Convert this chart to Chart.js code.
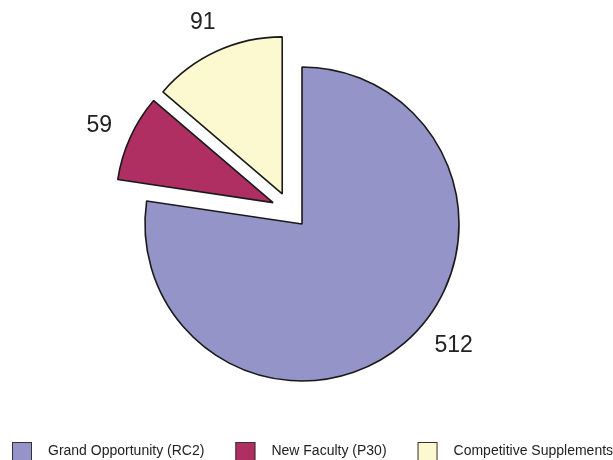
<!DOCTYPE html>
<html>
<head>
<meta charset="utf-8">
<script src="https://cdn.jsdelivr.net/npm/chart.js@4/dist/chart.umd.min.js"></script>
<style>
  html, body { margin: 0; padding: 0; background: #fff; }
  #wrap { width: 613px; height: 460px; }
</style>
</head>
<body>
<div id="wrap"><canvas id="myChart"></canvas></div>
<script>
// data
var categorie = ['Grand Opportunity (RC2)', 'New Faculty (P30)', 'Competitive Supplements'];
var valori = [512, 59, 91];
var colori = ['#9494c8', '#b02f62', '#fcf8cf'];

// fette staccate: sposta il centro dell'arco dopo l'update
var esplodiPlugin = {
  id: 'esplodi',
  afterUpdate: function(chart, args, opts) {
    var arcs = chart.getDatasetMeta(0).data;
    for (var i = 0; i < arcs.length; i++) {
      var d = opts.distanza[i] || 0;
      if (!d) continue;
      var a = arcs[i];
      var dir = (a.startAngle + a.endAngle) / 2 + (opts.ruota[i] || 0);
      a.x += Math.cos(dir) * d;
      a.y += Math.sin(dir) * d;
    }
  }
};

// etichette dei valori fuori dalle fette
var etichettePlugin = {
  id: 'etichette',
  afterDatasetsDraw: function(chart, args, opts) {
    var ctx = chart.ctx;
    var arcs = chart.getDatasetMeta(0).data;
    ctx.save();
    ctx.font = '23px "Liberation Sans", Arial, sans-serif';
    ctx.fillStyle = '#222';
    ctx.textAlign = 'center';
    ctx.textBaseline = 'middle';
    for (var i = 0; i < arcs.length; i++) {
      var a = arcs[i];
      var mid = (a.startAngle + a.endAngle) / 2 + (opts.nudge[i] || 0);
      var d = a.outerRadius + 35;
      ctx.fillText(String(valori[i]), a.x + Math.cos(mid) * d + 1, a.y + Math.sin(mid) * d + 3);
    }
    ctx.restore();
  }
};

// legenda in basso
var legendaPlugin = {
  id: 'legenda',
  afterDraw: function(chart) {
    var ctx = chart.ctx;
    var x = 12, y = 442;
    ctx.save();
    ctx.font = '14px "Liberation Sans", Arial, sans-serif';
    ctx.textBaseline = 'middle';
    for (var i = 0; i < categorie.length; i++) {
      ctx.fillStyle = colori[i];
      ctx.fillRect(x, y, 20, 20);
      ctx.strokeStyle = '#333';
      ctx.lineWidth = 1;
      ctx.strokeRect(x + 0.5, y + 0.5, 19, 19);
      ctx.fillStyle = '#222';
      ctx.fillText(categorie[i], x + 36, y + 9);
      x += 36 + ctx.measureText(categorie[i]).width + 31;
    }
    ctx.restore();
  }
};

var ctx = document.getElementById('myChart').getContext('2d');
var chart = new Chart(ctx, {
  type: 'pie',
  data: {
    labels: categorie,
    datasets: [{
      data: valori,
      backgroundColor: colori,
      borderColor: '#1a1a1a',
      borderWidth: 1.6
    }]
  },
  options: {
    responsive: true,
    maintainAspectRatio: false,
    animation: false,
    radius: 157,
    layout: { padding: { left: 0, right: 9, top: 0, bottom: 12 } },
    plugins: {
      legend: { display: false },
      tooltip: { enabled: false },
      esplodi: { distanza: [0, 36, 36], ruota: [0, 0.21, -0.15] },
      etichette: { nudge: [-0.19, 0, 0] }
    }
  },
  plugins: [esplodiPlugin, etichettePlugin, legendaPlugin]
});
</script>
</body>
</html>
